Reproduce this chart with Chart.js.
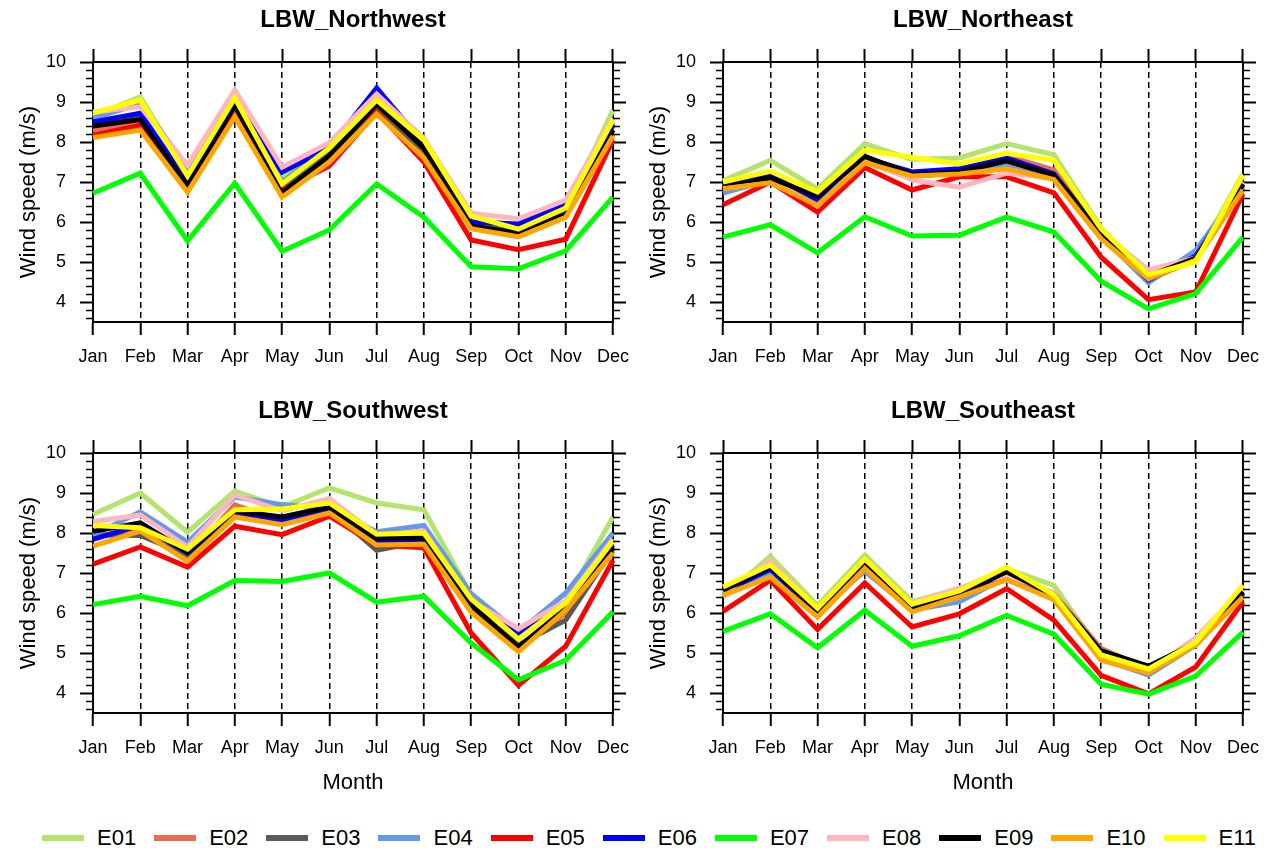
<!DOCTYPE html>
<html>
<head>
<meta charset="utf-8">
<title>LBW monthly wind speed</title>
<script src="https://cdn.jsdelivr.net/npm/chart.js@4.4.1/dist/chart.umd.min.js"></script>
<style>
  html, body { margin: 0; padding: 0; background: #fff; }
  #page { position: relative; width: 1271px; height: 851px; overflow: hidden;
          font-family: "Liberation Sans", Arial, Helvetica, sans-serif; }
  canvas { position: absolute; }
  #legend { position: absolute; left: 42px; top: 825px; display: flex; align-items: center;
            font-size: 22px; line-height: 26px; color: #000; white-space: nowrap; }
  .item { display: flex; align-items: center; margin-right: 18px; }
  .swatch { width: 42px; height: 6px; margin-right: 13px; }
</style>
</head>
<body>
<div id="page">
  <canvas id="nw" width="640" height="390" style="left:0;top:0"></canvas>
  <canvas id="ne" width="640" height="390" style="left:630px;top:0"></canvas>
  <canvas id="sw" width="640" height="420" style="left:0;top:391px"></canvas>
  <canvas id="se" width="640" height="420" style="left:630px;top:391px"></canvas>
  <div id="legend"></div>
</div>
<script>
// Month axis labels and y-axis tick values
const months = ['Jan', 'Feb', 'Mar', 'Apr', 'May', 'Jun', 'Jul', 'Aug', 'Sep', 'Oct', 'Nov', 'Dec'];
const yTicks = [4, 5, 6, 7, 8, 9, 10];

// Ensemble members and their line colours
const seriesNames = ['E01', 'E02', 'E03', 'E04', 'E05', 'E06', 'E07', 'E08', 'E09', 'E10', 'E11'];
const seriesColors = ['#b5e46c', '#e96c50', '#5a5a5a', '#6699ea', '#ff0000', '#0000ff',
                      '#00ff00', '#ffb6c1', '#000000', '#ffa500', '#ffff00'];

// Monthly mean wind speed (m/s), one row per member E01..E11
const northwest = [
  [8.65, 9.13, 7.20, 9.20, 7.10, 7.90, 9.15, 8.10, 6.10, 5.85, 6.30, 8.80],
  [8.30, 8.45, 6.95, 8.85, 6.75, 7.55, 8.80, 7.70, 5.85, 5.70, 6.20, 8.20],
  [8.45, 8.60, 6.95, 8.95, 6.85, 7.75, 8.80, 7.80, 5.95, 5.75, 6.25, 8.40],
  [8.60, 8.95, 7.38, 9.05, 7.00, 7.90, 9.25, 7.90, 6.05, 5.92, 6.40, 8.50],
  [8.17, 8.42, 6.85, 8.75, 6.80, 7.40, 8.75, 7.50, 5.55, 5.31, 5.57, 8.05],
  [8.50, 8.72, 7.00, 9.00, 7.25, 7.85, 9.35, 7.95, 6.00, 5.95, 6.45, 8.45],
  [6.72, 7.22, 5.53, 6.97, 5.27, 5.80, 6.95, 6.12, 4.88, 4.83, 5.28, 6.62],
  [8.75, 8.88, 7.42, 9.30, 7.37, 7.98, 9.20, 8.08, 6.22, 6.08, 6.55, 8.60],
  [8.40, 8.56, 6.90, 8.92, 6.73, 7.65, 8.95, 7.85, 5.90, 5.72, 6.20, 8.30],
  [8.11, 8.30, 6.75, 8.63, 6.62, 7.50, 8.70, 7.60, 5.83, 5.63, 6.12, 8.15],
  [8.72, 9.05, 7.15, 9.10, 6.95, 7.85, 9.05, 8.05, 6.15, 5.82, 6.35, 8.55]
];
const northeast = [
  [7.03, 7.54, 6.83, 7.96, 7.56, 7.60, 7.96, 7.68, 5.85, 4.60, 5.10, 7.20],
  [6.85, 7.05, 6.50, 7.55, 7.20, 7.30, 7.65, 7.30, 5.75, 4.60, 5.05, 6.85],
  [6.85, 7.10, 6.60, 7.60, 7.15, 7.22, 7.50, 7.15, 5.68, 4.55, 5.08, 6.90],
  [6.72, 7.05, 6.55, 7.50, 7.20, 7.25, 7.45, 7.15, 5.65, 4.48, 5.29, 6.90],
  [6.43, 7.00, 6.25, 7.36, 6.80, 7.13, 7.13, 6.73, 5.12, 4.06, 4.25, 6.70],
  [6.90, 7.17, 6.55, 7.60, 7.25, 7.33, 7.60, 7.20, 5.70, 4.55, 5.15, 6.95],
  [5.62, 5.93, 5.23, 6.13, 5.65, 5.67, 6.12, 5.75, 4.52, 3.83, 4.21, 5.62],
  [6.90, 7.05, 6.40, 7.55, 7.05, 6.87, 7.22, 7.10, 5.75, 4.80, 5.10, 7.00],
  [6.95, 7.10, 6.64, 7.64, 7.19, 7.25, 7.53, 7.17, 5.71, 4.65, 5.10, 6.95],
  [6.83, 6.98, 6.42, 7.48, 7.15, 7.20, 7.33, 7.06, 5.58, 4.58, 5.05, 6.80],
  [7.00, 7.27, 6.75, 7.79, 7.62, 7.45, 7.72, 7.54, 5.83, 4.68, 5.00, 7.17]
];
const southwest = [
  [8.46, 9.00, 8.02, 9.05, 8.65, 9.13, 8.75, 8.58, 6.45, 5.45, 6.30, 8.40],
  [7.90, 8.10, 7.40, 8.70, 8.30, 8.50, 7.75, 7.75, 6.10, 5.10, 6.00, 7.55],
  [7.95, 7.94, 7.45, 8.50, 8.35, 8.60, 7.57, 7.80, 6.15, 5.20, 5.82, 7.60],
  [7.95, 8.53, 7.77, 8.90, 8.71, 8.60, 8.03, 8.19, 6.48, 5.52, 6.50, 8.00],
  [7.22, 7.65, 7.15, 8.17, 7.96, 8.42, 7.70, 7.63, 5.50, 4.19, 5.17, 7.32],
  [7.84, 8.20, 7.50, 8.50, 8.30, 8.55, 7.80, 7.85, 6.25, 5.44, 6.20, 7.70],
  [6.21, 6.42, 6.18, 6.81, 6.79, 7.00, 6.27, 6.42, 5.25, 4.33, 4.82, 6.03],
  [8.29, 8.45, 7.65, 8.95, 8.55, 8.86, 7.95, 8.05, 6.30, 5.61, 6.30, 7.85],
  [8.04, 8.25, 7.52, 8.55, 8.40, 8.65, 7.86, 7.88, 6.20, 5.15, 6.10, 7.65],
  [7.67, 8.05, 7.30, 8.40, 8.21, 8.50, 7.70, 7.72, 6.02, 5.03, 6.07, 7.50],
  [8.19, 8.13, 7.60, 8.58, 8.60, 8.75, 7.97, 8.00, 6.35, 5.35, 6.25, 7.80]
];
const southeast = [
  [6.40, 7.42, 6.19, 7.45, 6.29, 6.60, 7.10, 6.69, 5.00, 4.45, 5.20, 6.60],
  [6.45, 7.05, 6.00, 7.20, 6.15, 6.50, 6.95, 6.50, 5.11, 4.60, 5.30, 6.50],
  [6.50, 7.00, 6.00, 7.15, 6.10, 6.45, 6.95, 6.40, 5.00, 4.60, 5.25, 6.50],
  [6.45, 6.95, 6.03, 7.05, 6.07, 6.28, 6.90, 6.35, 4.85, 4.45, 5.20, 6.45],
  [6.04, 6.82, 5.59, 6.75, 5.65, 5.98, 6.61, 5.82, 4.44, 3.98, 4.65, 6.28],
  [6.51, 7.10, 6.00, 7.15, 6.10, 6.45, 7.00, 6.40, 4.90, 4.60, 5.25, 6.50],
  [5.54, 5.98, 5.13, 6.07, 5.17, 5.43, 5.94, 5.47, 4.22, 3.97, 4.42, 5.52],
  [6.50, 7.30, 6.10, 7.30, 6.25, 6.63, 6.95, 6.50, 5.00, 4.55, 5.38, 6.60],
  [6.57, 7.15, 6.05, 7.22, 6.15, 6.48, 7.03, 6.45, 5.05, 4.67, 5.25, 6.53],
  [6.44, 6.90, 5.90, 7.11, 6.03, 6.40, 6.83, 6.33, 4.82, 4.50, 5.20, 6.40],
  [6.65, 7.20, 6.12, 7.35, 6.22, 6.55, 7.15, 6.45, 4.95, 4.60, 5.27, 6.70]
];

Chart.defaults.font.family = '"Liberation Sans", Arial, Helvetica, sans-serif';
Chart.defaults.color = '#000';

const Y_MIN = 3.5, Y_MAX = 10;
const AREA_LEFT = 93, AREA_RIGHT = 613, AREA_BOTTOM = 322, CANVAS_W = 640;

// Short minor tick marks every 0.2 m/s on both vertical axes
const minorTicks = {
  id: 'minorTicks',
  afterDraw(chart) {
    const { ctx, chartArea } = chart;
    ctx.save();
    ctx.strokeStyle = '#000';
    ctx.lineWidth = 1.5;
    for (const id of ['y', 'y2']) {
      const scale = chart.scales[id];
      for (let k = Math.round(Y_MIN * 5); k <= Math.round(Y_MAX * 5); k++) {
        if (k % 5 === 0) continue;
        const py = Math.round(scale.getPixelForValue(k / 5)) + 0.5;
        ctx.beginPath();
        if (id === 'y') { ctx.moveTo(chartArea.left - 7, py); ctx.lineTo(chartArea.left, py); }
        else { ctx.moveTo(chartArea.right, py); ctx.lineTo(chartArea.right + 7, py); }
        ctx.stroke();
      }
    }
    ctx.restore();
  }
};

const setTicks = scale => { scale.ticks = yTicks.map(v => ({ value: v })); };

function makeChart(id, title, rows, showMonth) {
  const canvas = document.getElementById(id);
  const H = canvas.height;
  return new Chart(canvas, {
    type: 'line',
    data: {
      labels: months,
      datasets: rows.map((vals, i) => ({
        label: seriesNames[i],
        data: vals,
        borderColor: seriesColors[i],
        backgroundColor: seriesColors[i],
        borderWidth: 5,
        pointRadius: 0,
        pointHoverRadius: 0,
        tension: 0,
        fill: false,
        order: rows.length - i
      }))
    },
    plugins: [minorTicks],
    options: {
      responsive: false,
      animation: false,
      devicePixelRatio: 1,
      events: [],
      layout: { padding: 0 },
      plugins: {
        legend: { display: false },
        tooltip: { enabled: false },
        title: {
          display: true, text: title, fullSize: false,
          font: { size: 24, weight: 'bold' }, color: '#000',
          padding: { top: 5.6, bottom: 14.6 }
        }
      },
      scales: {
        x: {
          type: 'category', position: 'bottom', offset: false,
          grid: { drawOnChartArea: true, color: '#000', lineWidth: 1.5,
                  tickLength: 13, tickWidth: 2, tickColor: '#000' },
          border: { display: true, color: '#000', width: 2, dash: [6, 4] },
          ticks: { color: '#000', font: { size: 18 }, padding: 11, maxRotation: 0, autoSkip: false },
          title: showMonth
            ? { display: true, text: 'Month', color: '#000', font: { size: 22 }, padding: { top: 0, bottom: 14.8 } }
            : { display: false },
          afterFit: s => { s.height = H - AREA_BOTTOM; }
        },
        x2: {
          type: 'category', position: 'top', offset: false,
          grid: { drawOnChartArea: false, color: '#000', tickLength: 13, tickWidth: 2, tickColor: '#000' },
          border: { display: true, color: '#000', width: 2 },
          ticks: { display: false },
          afterFit: s => { s.height = 13; }
        },
        y: {
          type: 'linear', position: 'left', min: Y_MIN, max: Y_MAX,
          afterBuildTicks: setTicks,
          grid: { drawOnChartArea: false, color: '#000', tickLength: 13, tickWidth: 2, tickColor: '#000' },
          border: { display: true, color: '#000', width: 2 },
          ticks: { color: '#000', font: { size: 18 }, padding: 14 },
          title: { display: true, text: 'Wind speed (m/s)', color: '#000', font: { size: 22 },
                   padding: { top: 15.8, bottom: 0 } },
          afterFit: s => { s.width = AREA_LEFT; }
        },
        y2: {
          type: 'linear', position: 'right', min: Y_MIN, max: Y_MAX,
          afterBuildTicks: setTicks,
          grid: { drawOnChartArea: false, color: '#000', tickLength: 13, tickWidth: 2, tickColor: '#000' },
          border: { display: true, color: '#000', width: 2 },
          ticks: { display: false },
          afterFit: s => { s.width = CANVAS_W - AREA_RIGHT; }
        }
      }
    }
  });
}

makeChart('nw', 'LBW_Northwest', northwest, false);
makeChart('ne', 'LBW_Northeast', northeast, false);
makeChart('sw', 'LBW_Southwest', southwest, true);
makeChart('se', 'LBW_Southeast', southeast, true);

// Legend row shared by all four panels
const legend = document.getElementById('legend');
seriesNames.forEach((name, i) => {
  const item = document.createElement('div');
  item.className = 'item';
  const sw = document.createElement('span');
  sw.className = 'swatch';
  sw.style.background = seriesColors[i];
  const label = document.createElement('span');
  label.textContent = name;
  item.appendChild(sw);
  item.appendChild(label);
  legend.appendChild(item);
});
</script>
</body>
</html>
